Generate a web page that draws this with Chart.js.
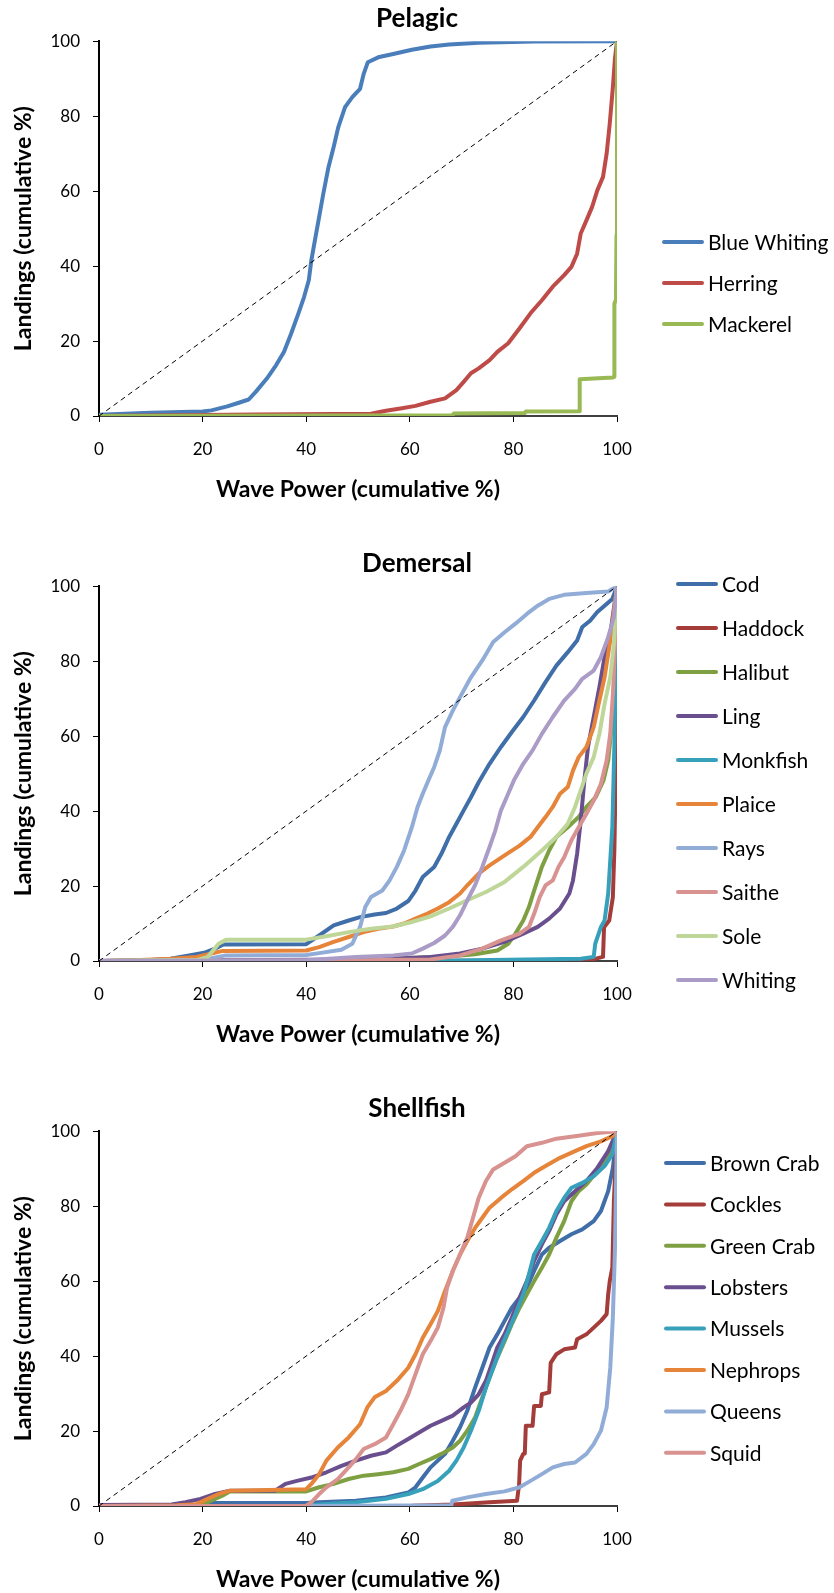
<!DOCTYPE html>
<html>
<head>
<meta charset="utf-8">
<script src="https://cdn.jsdelivr.net/npm/chart.js@4.4.1/dist/chart.umd.min.js"></script>
<style>
  html, body { margin: 0; padding: 0; background: #fff; }
  .box { position: absolute; left: 0; width: 834px; height: 503px; }
</style>
</head>
<body>
<div class="box" style="top:0px"><canvas id="pelagic" width="834" height="503"></canvas></div>
<div class="box" style="top:545px"><canvas id="demersal" width="834" height="503"></canvas></div>
<div class="box" style="top:1090px"><canvas id="shellfish" width="834" height="503"></canvas></div>
<script>
// axis ticks
var xTicks = [0, 20, 40, 60, 80, 100];
var yTicks = [0, 20, 40, 60, 80, 100];

// ---- Pelagic : [wave power %, landings %]
var pelagicNames = ["Blue Whiting", "Herring", "Mackerel"];
var blueWhiting = [[0,0.3],[5,0.6],[10,0.9],[20,1.2],[21.7,1.5],[24.6,2.5],[26.7,3.4],[28.9,4.4],[30.3,6.5],[32.4,10],[34.2,13.6],[35.7,17.1],[37.1,22],[38.5,27.4],[39.6,31.8],[40.5,36.2],[41,41.6],[41.8,47.8],[42.5,53.1],[43.3,59.3],[44.3,66.4],[45.3,71.8],[46.2,77.1],[47.5,82.4],[48.9,85.1],[50.4,87.3],[51.1,91.3],[51.9,94.4],[53.9,95.7],[56.8,96.6],[60.4,97.7],[64,98.6],[67.6,99.1],[73.3,99.6],[84,99.9],[100,100]];
var herring = [[0,0],[30,0.4],[52.5,0.6],[55.4,1.4],[58.2,2],[61.1,2.7],[64,3.8],[66.8,4.7],[69,6.9],[70.4,9.1],[71.8,11.4],[73.3,12.7],[75.4,14.9],[76.9,17.1],[79,19.4],[81.2,23.4],[83.3,27.4],[85.5,30.9],[87.6,34.5],[89.8,37.6],[91.2,39.8],[92.3,43.3],[93,48.7],[94.1,52.2],[95.2,55.8],[96.2,60.2],[97.3,63.8],[98,70],[98.6,78],[99.2,87.7],[99.6,95.3],[100,100]];
var mackerel = [[0,0],[68.3,0.2],[68.5,0.7],[82.2,0.8],[82.4,1.2],[92.7,1.3],[92.8,9.8],[99.2,10.3],[99.5,10.5],[99.5,30],[99.8,31],[99.9,48],[100,49],[100,100]];

// ---- Demersal
var demersalNames = ["Cod", "Haddock", "Halibut", "Ling", "Monkfish", "Plaice", "Rays", "Saithe", "Sole", "Whiting"];
var cod = [[0,0],[10,0.3],[13.8,0.6],[17.4,1.5],[20.3,2.2],[22.4,3.3],[24,4.4],[40,4.5],[42.5,6.8],[45.3,9.5],[48.2,10.8],[50.4,11.7],[53.2,12.4],[55.4,12.8],[57.5,14],[59.7,16],[61.1,18.8],[62.5,22.4],[64.7,25.1],[66.1,28.6],[67.6,33.1],[69,36.6],[70.4,40.2],[71.8,43.7],[73.3,47.7],[75.4,52.6],[77.6,57.1],[79.7,61.1],[81.9,65.1],[84,69.5],[86.2,74.4],[88.3,78.8],[90.5,82.4],[92.3,85.5],[93.3,89.1],[94.8,90.8],[96.2,93.1],[97.6,94.8],[99.1,96.6],[100,100]];
var haddock = [[0,0],[80,0.1],[95.5,0.5],[97.3,1.1],[97.5,9],[98.5,10.8],[99.2,17],[99.5,30],[99.8,55],[100,100]];
var halibut = [[0,0],[40,0.2],[59.7,0.8],[67.6,1.2],[72.6,1.8],[76.9,2.8],[79,4.6],[80.4,7.3],[81.9,10.8],[83,14.4],[84,18.8],[85.5,25.1],[86.9,29.5],[88.3,33.1],[90.5,35.7],[92.6,38.4],[94.1,41.1],[95.9,43.7],[97.4,48.2],[98.3,53.5],[99.1,64.2],[99.6,80.2],[100,100]];
var ling = [[0,0],[20,0.2],[50,0.4],[56.8,0.6],[64,1.1],[69.7,2],[74,3.3],[78.3,5.1],[81.9,7.3],[84.7,9.1],[86.9,11.3],[89,14],[90.8,18],[91.5,21.5],[92.3,28.6],[93,37.5],[93.7,48.2],[94.4,57.1],[95.5,65.1],[96.6,73.1],[97.6,81.1],[98.7,87.3],[100,100]];
var monkfish = [[0,0],[65,0.1],[93,0.6],[95.5,1.1],[95.8,4.6],[96.9,9.1],[97.6,10.8],[98.3,18],[99.1,35.7],[99.5,58],[100,100]];
var plaice = [[0,0],[8,0.3],[13.8,0.6],[18.8,1.1],[21.7,2],[23.9,2.7],[40,2.8],[42.5,3.7],[45.3,5.1],[48.2,6.4],[51.1,7.7],[53.9,8.6],[56.8,9.2],[58.9,10],[61.1,11.3],[63.3,12.6],[65.4,14],[67.6,15.7],[69.7,18],[71.1,20.2],[73.3,23.3],[75.4,25.5],[78.3,28.2],[81.2,30.8],[83.3,33.1],[84.7,35.7],[86.2,38.4],[87.6,41.1],[89,44.6],[90.5,46.4],[91.5,50.8],[92.6,54.4],[94.1,57.1],[95.5,62.4],[96.6,69.5],[97.6,75.7],[98.7,85.5],[100,100]];
var rays = [[0,0],[20,0.3],[24.5,1.5],[40,1.6],[42.5,2.1],[46.8,3],[48.9,4.6],[50.4,9.1],[51.4,14.4],[52.5,17.1],[54.7,18.8],[56.1,21.5],[57.5,25.1],[58.9,29.5],[60.4,35.7],[61.5,41.1],[62.5,44.6],[63.6,48.2],[64.7,51.7],[65.8,56.2],[66.8,62.4],[68.3,66.8],[69.7,70.4],[71.8,75.7],[74,80.2],[76.1,85.1],[78.3,87.7],[80.4,90],[82.6,92.6],[84.7,94.8],[86.9,96.6],[89.8,97.7],[94.1,98.2],[98.3,98.6],[100,100]];
var saithe = [[0,0],[50,0.2],[64,0.4],[69.7,1.5],[74,3.3],[77.6,5.5],[81.2,7.3],[83,9.1],[84,12.6],[85.1,17.1],[86.2,20.2],[87.6,21.5],[88.7,25.1],[89.8,27.7],[91.2,32.2],[92.6,35.7],[94.1,39.3],[95.5,42.8],[96.9,47.3],[98,53.5],[98.7,60.6],[99.3,73.1],[100,100]];
var sole = [[0,0],[19,0.3],[21,1.1],[23.1,4.6],[24.6,5.7],[40,5.7],[43.9,6.6],[48.2,7.7],[52.5,8.6],[56.8,9.2],[60.4,10.4],[64,11.9],[67.6,14],[71.1,16.2],[74.7,18.4],[78.3,21.1],[81.9,25.1],[85.5,29.5],[88.3,33.1],[90.5,36.6],[91.9,41.1],[93,45.5],[94.1,50],[95.5,54.4],[96.6,60.6],[97.6,68.6],[98.7,75.7],[99.4,84.6],[100,100]];
var whiting = [[0,0],[40,0.2],[49.6,1.1],[56.8,1.5],[60.4,2],[62.5,3.3],[64.7,4.8],[66.8,6.8],[68.3,9.1],[69.7,12.2],[71.1,16.2],[72.6,20.2],[74,25.1],[75.4,30.4],[76.5,34.8],[77.6,40.2],[78.7,43.7],[80.1,48.2],[81.9,52.6],[83.7,56.2],[85.5,60.6],[87.6,65.1],[89.8,69.5],[91.9,72.6],[93.3,75.3],[95.5,77.5],[96.9,81.1],[98.3,86.4],[99.4,91.7],[100,100]];

// ---- Shellfish
var shellfishNames = ["Brown Crab", "Cockles", "Green Crab", "Lobsters", "Mussels", "Nephrops", "Queens", "Squid"];
var brownCrab = [[0,0],[20,0.3],[22,0.8],[40,0.8],[42.5,1],[49.6,1.4],[55.4,2.3],[59.7,3.6],[61.1,5],[62.5,7.6],[64,10.3],[65.4,12.1],[66.8,13.9],[68.3,17.4],[69.7,21],[71.1,25.4],[72.6,31.6],[74,36.9],[75.4,42.3],[76.9,45.8],[78.3,49.4],[79.7,52.9],[81.2,55.6],[82.6,58.3],[84,62.7],[85.5,67.1],[86.9,68.9],[89,70.7],[91.2,72.5],[93.3,73.8],[95.5,76],[96.9,78.7],[98.3,84],[99.2,90.2],[100,100]];
var cockles = [[0,0],[60.5,0.1],[68.3,0.4],[75.4,1],[80.7,1.4],[80.9,3.6],[81.1,5.6],[81.3,12.1],[81.9,13.9],[82.2,14],[82.4,21.4],[83.7,21.4],[84,26.7],[85.3,26.7],[85.5,29.8],[86.9,30.3],[87.2,38.2],[88.3,40.5],[89.8,41.8],[91.9,42.3],[92.3,44.5],[94.1,45.8],[95.5,47.6],[96.9,49.4],[98,51.2],[98.3,56.5],[98.6,60],[99.1,63.6],[99.4,81.3],[100,100]];
var greenCrab = [[0,0],[20,0.3],[21,1],[23.9,2.8],[25.3,3.9],[40,3.9],[42.5,5],[45.3,5.9],[48.2,7.2],[51.1,8.1],[53.9,8.5],[56.8,9],[59.7,9.9],[61.8,11.2],[64,12.5],[66.1,13.9],[68.3,15.6],[69.7,17.4],[71.1,20.1],[72.6,23.6],[74,29],[75.4,34.3],[76.9,39.6],[78.3,44],[79.7,48.5],[81.2,52.9],[82.6,56.5],[84,60],[85.5,63.6],[86.9,67.1],[88.3,71.6],[89.8,76],[91.2,81.3],[92.6,84],[94.1,85.8],[96.2,89.3],[98.3,92.9],[100,100]];
var lobsters = [[0,0.3],[14,0.4],[16.7,1],[19.6,1.9],[22.4,3.2],[25.3,4.1],[34,4.1],[36,5.9],[38.2,6.7],[41,7.6],[43.9,9],[46.8,10.7],[49.6,12.1],[52.5,13.4],[55.4,14.3],[57.5,16.1],[59.7,17.9],[61.8,19.6],[64,21.4],[66.1,22.7],[68.3,24.1],[70.4,26.3],[71.8,27.6],[73.3,29.8],[74.7,33.4],[75.8,37.8],[76.9,42.3],[78.3,45.8],[79.7,50.3],[81.2,55.6],[82.6,60],[84,65.4],[85.5,69.8],[86.9,73.4],[88.3,77.8],[89.8,81.3],[91.9,84],[94.1,86.7],[96.2,90.2],[98.3,94.7],[100,100]];
var mussels = [[0,0],[40,0.1],[42.5,0.4],[49.6,1],[55.4,1.9],[59.7,3.2],[62.5,4.5],[65.4,6.7],[67.6,9.4],[69,12.1],[70.4,15.6],[71.8,20.1],[73.3,25.4],[74.7,31.6],[76.1,36.9],[77.6,42.3],[79,46.7],[80.4,51.2],[81.9,56.5],[83,61.8],[84,67.1],[85.5,70.7],[86.9,74.2],[88.3,78.7],[89.8,82.2],[91.2,84.9],[93.3,86.2],[95.5,88],[97.6,90.7],[99.1,93.8],[100,100]];
var nephrops = [[0,0],[15,0.2],[18.8,0.5],[21,1.9],[23.1,3.2],[25.3,4.1],[40,4.5],[41,5.9],[42.5,8.5],[43.9,12.1],[46.1,15.6],[48.2,18.3],[50.4,21.8],[51.8,26.3],[53.2,29],[55.4,30.7],[57.5,33.4],[59.7,36.9],[61.1,40.5],[62.5,44.9],[64,48.5],[65.4,52],[66.8,57.4],[68.3,62.7],[69.7,67.1],[71.1,70.7],[72.6,74.2],[74,76.9],[75.4,79.6],[77.6,82.2],[79.7,84.5],[81.9,86.7],[84,88.9],[86.2,90.7],[89,92.9],[91.9,94.7],[94.1,96],[96.9,97.3],[99.1,98.7],[100,100]];
var queens = [[0,0],[41,0],[68,0.2],[68.2,1.4],[71.1,2.3],[74.7,3.2],[78.3,3.9],[81.2,5],[83.3,6.7],[85.5,8.5],[87.6,10.3],[89.8,11.2],[91.9,11.6],[94.1,13.9],[95.5,16.5],[96.9,20.1],[98,26.3],[98.7,36.9],[99.2,50.3],[99.6,68],[100,100]];
var squid = [[0,0],[40,0.1],[41,1],[42.5,3.2],[43.9,5],[46.1,7.2],[48.2,10.3],[49.6,12.5],[51.1,15.2],[53.2,16.5],[55.4,18.3],[56.8,21.8],[58.2,25.4],[59.7,29.8],[61.1,35.2],[62.5,40.5],[64,44],[65.4,47.6],[66.5,52.9],[67.2,58.3],[68.3,62.7],[69.7,67.1],[71.1,71.6],[72.2,76.9],[73.3,82.2],[74.7,86.7],[76.1,89.8],[78.3,91.6],[80.4,93.3],[82.6,96],[85.5,96.9],[88.3,98],[92.6,98.8],[96.2,99.5],[100,100]];

// equal-share reference line
var diagonal = [[0,0],[100,100]];

// colours
var pelagicColors = ["#4A7EBB", "#BE4B48", "#98B954"];
var darkColors = ["#3F6EA8", "#A43D3A", "#7EA043", "#6A4F8E", "#37A1BC", "#E6843A"];
var lightColors = ["#91ADD7", "#D8928F", "#BFD699", "#AB9CC7"];

var FONT = "Lato, 'Liberation Sans', sans-serif";

// legend drawn at the right, Excel style
var sideLegend = {
  id: 'sideLegend',
  afterDraw: function(chart, args, opts) {
    var ctx = chart.ctx;
    ctx.save();
    var y = opts.top;
    chart.data.datasets.forEach(function(ds) {
      if (ds.noLegend) return;
      ctx.strokeStyle = ds.borderColor;
      ctx.lineWidth = 4;
      ctx.lineCap = 'round';
      ctx.beginPath();
      ctx.moveTo(opts.left + 2, y);
      ctx.lineTo(opts.left + opts.lineLen - 2, y);
      ctx.stroke();
      ctx.fillStyle = '#000';
      ctx.font = '21px ' + FONT;
      ctx.textBaseline = 'middle';
      ctx.textAlign = 'left';
      ctx.fillText(ds.label, opts.left + opts.lineLen + 4, y + 1);
      y += opts.step;
    });
    ctx.restore();
  }
};

function toXY(arr) {
  return arr.map(function(p) { return {x: p[0], y: p[1]}; });
}

function makeChart(id, title, names, series, colors, legend) {
  var datasets = series.map(function(s, i) {
    return {
      label: names[i],
      data: toXY(s),
      borderColor: colors[i],
      borderWidth: 4,
      pointRadius: 0,
      tension: 0,
      fill: false,
      borderJoinStyle: 'round',
      borderCapStyle: 'round',
      order: -i
    };
  });
  datasets.push({
    label: '',
    noLegend: true,
    data: toXY(diagonal),
    borderColor: '#000',
    borderWidth: 1,
    borderDash: [5, 4],
    pointRadius: 0,
    fill: false,
    order: -100
  });

  return new Chart(document.getElementById(id), {
    type: 'line',
    data: { datasets: datasets },
    plugins: [sideLegend],
    options: {
      responsive: false,
      animation: false,
      layout: { padding: 0 },
      plugins: {
        legend: { display: false },
        tooltip: { enabled: false },
        title: {
          display: true,
          text: title,
          color: '#000',
          font: { family: FONT, size: 26, weight: 'bold', lineHeight: 1.2 },
          padding: { top: 3, bottom: 7 }
        },
        sideLegend: legend
      },
      scales: {
        x: {
          type: 'linear',
          min: 0,
          max: 100,
          afterBuildTicks: function(s) { s.ticks = xTicks.map(function(v) { return {value: v}; }); },
          ticks: { color: '#000', font: { family: FONT, size: 17 }, padding: 17, maxRotation: 0 },
          grid: { drawOnChartArea: false, tickLength: 6, tickColor: '#000', tickWidth: 1 },
          border: { color: '#404040', width: 2 },
          title: {
            display: true,
            text: 'Wave Power (cumulative %)',
            color: '#000',
            font: { family: FONT, size: 23, weight: 'bold', lineHeight: 1.2 },
            padding: { top: 0, bottom: 0 }
          },
          afterFit: function(s) { s.height = 87; }
        },
        y: {
          type: 'linear',
          min: 0,
          max: 100,
          afterBuildTicks: function(s) { s.ticks = yTicks.map(function(v) { return {value: v}; }); },
          ticks: { color: '#000', font: { family: FONT, size: 17 }, padding: 13 },
          grid: { drawOnChartArea: false, tickLength: 6, tickColor: '#000', tickWidth: 1 },
          border: { color: '#000', width: 2 },
          title: {
            display: true,
            text: 'Landings (cumulative %)',
            color: '#000',
            font: { family: FONT, size: 23, weight: 'bold', lineHeight: 1.2 },
            padding: { top: 10, bottom: 0 }
          },
          afterFit: function(s) { s.width = 99; }
        },
        // empty right-hand axis: keeps room for the legend so the title centres on the whole chart
        side: {
          type: 'linear',
          position: 'right',
          display: true,
          ticks: { display: false },
          grid: { display: false },
          border: { display: false },
          afterFit: function(s) { s.width = 217; }
        }
      }
    }
  });
}

makeChart('pelagic', 'Pelagic', pelagicNames,
  [blueWhiting, herring, mackerel], pelagicColors,
  { left: 662, top: 242, step: 41, lineLen: 42 });

makeChart('demersal', 'Demersal', demersalNames,
  [cod, haddock, halibut, ling, monkfish, plaice, rays, saithe, sole, whiting],
  darkColors.concat(lightColors),
  { left: 676, top: 39, step: 44, lineLen: 42 });

makeChart('shellfish', 'Shellfish', shellfishNames,
  [brownCrab, cockles, greenCrab, lobsters, mussels, nephrops, queens, squid],
  darkColors.concat(lightColors.slice(0, 2)),
  { left: 664, top: 73, step: 41.4, lineLen: 42 });
</script>
</body>
</html>
